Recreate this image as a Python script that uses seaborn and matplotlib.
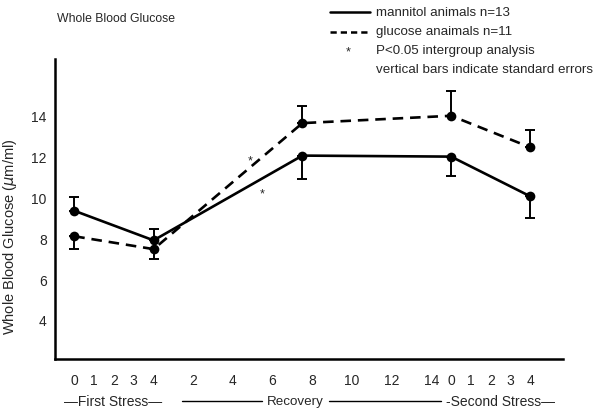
import matplotlib
matplotlib.use('Agg')
import matplotlib.pyplot as plt
import seaborn as sns
import pandas as pd
from matplotlib.lines import Line2D

# sampling times: phase and hour within phase
phase = ['first', 'first', 'recovery', 'second', 'second']
hour = [0, 4, 7.5, 0, 4]
# where each phase starts on the continuous time axis
phase_start = {'first': 0, 'recovery': 4, 'second': 19}

mannitol_mean = [9.35, 7.9, 12.05, 12.0, 10.05]
mannitol_se = [0.65, 0.55, 1.15, 0.93, 1.07]
glucose_mean = [8.1, 7.47, 13.64, 14.0, 12.45]
glucose_se = [0.6, 0.5, 0.82, 1.2, 0.85]
# which side the one-sided error bar is drawn on (1 = up, -1 = down)
mannitol_dir = [1, 1, -1, -1, -1]
glucose_dir = [-1, -1, 1, 1, 1]

tick_phase = ['first'] * 5 + ['recovery'] * 7 + ['second'] * 5
tick_hour = [0, 1, 2, 3, 4, 2, 4, 6, 8, 10, 12, 14, 0, 1, 2, 3, 4]

# significant differences (asterisks)
sig_phase = ['recovery', 'recovery']
sig_hour = [4.86, 5.45]
sig_y = [11.8, 10.2]

sns.set_style('white')
plt.rcParams['font.family'] = ['Liberation Sans', 'DejaVu Sans']


def to_pos(ph, hr):
    return [phase_start[p] + h for p, h in zip(ph, hr)]


x = to_pos(phase, hour)
df = pd.DataFrame({'x': x, 'mannitol': mannitol_mean, 'glucose': glucose_mean})

fig = plt.figure(figsize=(6.11, 4.10), dpi=100)
ax = fig.add_axes([55 / 611, 50 / 410, 508 / 611, 300 / 410])

sns.lineplot(data=df, x='x', y='mannitol', ax=ax, color='black', lw=1.9,
             marker='o', markersize=7, markeredgewidth=0)
sns.lineplot(data=df, x='x', y='glucose', ax=ax, color='black', lw=1.9,
             linestyle=(0, (4, 2.6)), marker='o', markersize=7, markeredgewidth=0)

for mean, se, d in [(mannitol_mean, mannitol_se, mannitol_dir),
                    (glucose_mean, glucose_se, glucose_dir)]:
    lower = [s if k < 0 else 0 for s, k in zip(se, d)]
    upper = [s if k > 0 else 0 for s, k in zip(se, d)]
    ax.errorbar(x, mean, yerr=[lower, upper], fmt='none', ecolor='black',
                elinewidth=1.4, capsize=3.5, capthick=1.4)

for sx, sy in zip(to_pos(sig_phase, sig_hour), sig_y):
    ax.text(sx, sy, '*', ha='center', va='center', fontsize=9)

ax.set_xlim(-0.97, 24.64)
ax.set_ylim(2.09, 16.78)
ax.set_xticks(to_pos(tick_phase, tick_hour))
ax.set_xticklabels([str(h) for h in tick_hour])
ax.set_yticks([4, 6, 8, 10, 12, 14])
ax.tick_params(axis='both', direction='out', length=4, width=1.2,
               color='black', labelsize=10, pad=6)
ax.tick_params(axis='y', pad=2)
sns.despine(ax=ax)
for sp in ['left', 'bottom']:
    ax.spines[sp].set_linewidth(1.8)
    ax.spines[sp].set_color('black')
ax.set_xlabel('')
ax.set_ylabel('Whole Blood Glucose ($\\mu$m/ml)', fontsize=10.5)
ax.yaxis.set_label_coords(-0.07, 0.41)

fs = 9.6
fig.text(57 / 611, 1 - 19 / 410, 'Whole Blood Glucose', fontsize=8.8, va='center')

# legend drawn by hand like the original
fig.add_artist(Line2D([330 / 611, 370 / 611], [1 - 13 / 410] * 2, color='black', lw=1.8))
fig.add_artist(Line2D([330 / 611, 370 / 611], [1 - 33 / 410] * 2, color='black', lw=1.8,
                      linestyle=(0, (2.5, 1.6))))
fig.text(348 / 611, 1 - 52 / 410, '*', fontsize=9, ha='center', va='center')
legend_text = ['mannitol animals n=13', 'glucose anaimals n=11',
               'P<0.05 intergroup analysis', 'vertical bars indicate standard errors']
for i, t in enumerate(legend_text):
    fig.text(376 / 611, 1 - (13 + 19 * i) / 410, t, fontsize=fs, va='center')

# phase labels under the time axis
yb = 1 - 402 / 410
fig.text(113 / 611, yb, '\u2014First Stress\u2014', fontsize=10, ha='center', va='center')
fig.text(295 / 611, yb, 'Recovery', fontsize=9.6, ha='center', va='center')
fig.text(501 / 611, yb, '-Second Stress\u2014', fontsize=10, ha='center', va='center')
for x0, x1 in [(182, 262), (329, 441)]:
    fig.add_artist(Line2D([x0 / 611, x1 / 611], [yb] * 2, color='black', lw=1.0))

fig.savefig('out.png', dpi=100)
